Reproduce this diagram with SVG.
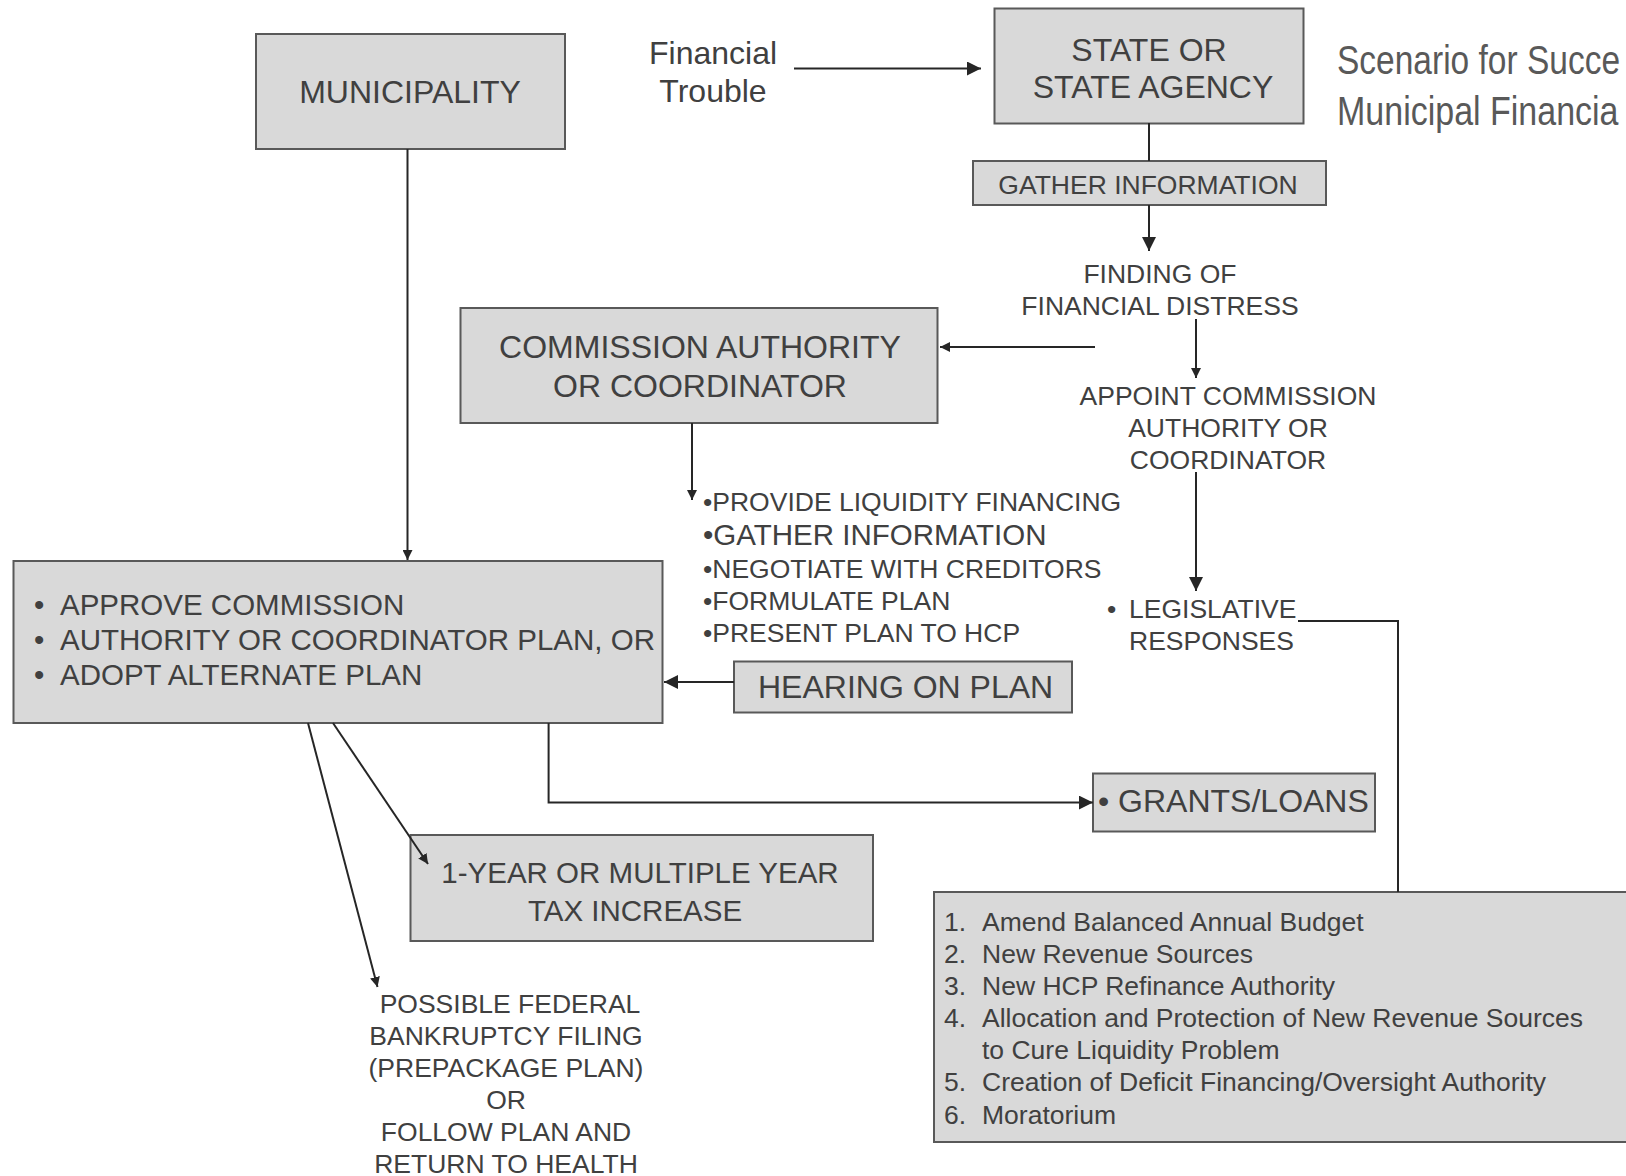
<svg xmlns="http://www.w3.org/2000/svg" width="1626" height="1176" viewBox="0 0 1626 1176">
<style>
  text { font-family: "Liberation Sans", Arial, sans-serif; fill: #404040; }
  .box { fill: #d9d9d9; stroke: #595959; stroke-width: 2; }
  .big { font-size: 32px; }
  .mid { font-size: 29.5px; }
  .sm { font-size: 26.5px; }
  .c { text-anchor: middle; }
  .ln { fill: none; stroke: #262626; stroke-width: 2; }
  .title { font-size: 33.5px; fill: #595959; }
</style>
<defs>
  <marker id="ah" markerUnits="userSpaceOnUse" markerWidth="16" markerHeight="14" refX="14" refY="7" orient="auto">
    <path d="M0,0 L14,7 L0,14 Z" fill="#262626"/>
  </marker>
  <marker id="as" markerUnits="userSpaceOnUse" markerWidth="12" markerHeight="10" refX="10" refY="5" orient="auto">
    <path d="M0,0 L10,5 L0,10 Z" fill="#262626"/>
  </marker>
</defs>

<g id="title">
  <text class="title" transform="translate(1337,74) scale(1,1.2)" x="0" y="0">Scenario for Succe</text>
  <text class="title" transform="translate(1337,125) scale(1,1.2)" x="0" y="0" style="font-size:34px">Municipal Financia</text>
</g>

<g id="municipality">
  <rect class="box" x="256" y="34" width="309" height="115"/>
  <text class="big c" x="410" y="103">MUNICIPALITY</text>
</g>

<g id="financial-trouble">
  <text class="big c" x="713" y="64">Financial</text>
  <text class="big c" x="713" y="102">Trouble</text>
</g>

<g id="state">
  <rect class="box" x="994.5" y="8.5" width="309" height="115"/>
  <text class="big c" x="1149" y="61">STATE OR</text>
  <text class="big c" x="1153" y="98">STATE AGENCY</text>
</g>

<g id="gather">
  <rect class="box" x="973" y="161" width="353" height="44"/>
  <text class="sm c" x="1148" y="194">GATHER INFORMATION</text>
</g>

<g id="finding">
  <text class="sm c" x="1160" y="282.5">FINDING OF</text>
  <text class="sm c" x="1160" y="314.5">FINANCIAL DISTRESS</text>
</g>

<g id="commission">
  <rect class="box" x="460.5" y="308" width="477" height="115"/>
  <text class="big c" x="700" y="358">COMMISSION AUTHORITY</text>
  <text class="big c" x="700" y="397">OR COORDINATOR</text>
</g>

<g id="appoint">
  <text class="sm c" x="1228" y="404.5">APPOINT COMMISSION</text>
  <text class="sm c" x="1228" y="436.5">AUTHORITY OR</text>
  <text class="sm c" x="1228" y="468.5">COORDINATOR</text>
</g>

<g id="tasks">
  <text class="sm" x="703" y="510.5">•PROVIDE LIQUIDITY FINANCING</text>
  <text class="mid" x="703" y="545">•GATHER INFORMATION</text>
  <text class="sm" x="703" y="577.5">•NEGOTIATE WITH CREDITORS</text>
  <text class="sm" x="703" y="609.5">•FORMULATE PLAN</text>
  <text class="sm" x="703" y="641.5">•PRESENT PLAN TO HCP</text>
</g>

<g id="legislative">
  <text class="sm" x="1107" y="617.5">•</text>
  <text class="sm" x="1129" y="617.5">LEGISLATIVE</text>
  <text class="sm" x="1129" y="649.5">RESPONSES</text>
</g>

<g id="approve">
  <rect class="box" x="13.5" y="561" width="649" height="162"/>
  <text class="mid" x="34" y="615">•</text>
  <text class="mid" x="60" y="615">APPROVE COMMISSION</text>
  <text class="mid" x="34" y="650">•</text>
  <text class="mid" x="60" y="650">AUTHORITY OR COORDINATOR PLAN, OR</text>
  <text class="mid" x="34" y="685">•</text>
  <text class="mid" x="60" y="685">ADOPT ALTERNATE PLAN</text>
</g>

<g id="hearing">
  <rect class="box" x="734" y="661.5" width="338" height="51"/>
  <text class="big" x="758" y="697.5">HEARING ON PLAN</text>
</g>

<g id="grants">
  <rect class="box" x="1093" y="773.5" width="282" height="58"/>
  <text class="big" x="1098" y="811.5">• GRANTS/LOANS</text>
</g>

<g id="tax">
  <rect class="box" x="410.5" y="835" width="462.5" height="106"/>
  <text class="mid c" x="640" y="883">1-YEAR OR MULTIPLE YEAR</text>
  <text class="mid c" x="635" y="920.5">TAX INCREASE</text>
</g>

<g id="outcome">
  <text class="sm c" x="510" y="1012.5">POSSIBLE FEDERAL</text>
  <text class="sm c" x="506" y="1044.5">BANKRUPTCY FILING</text>
  <text class="sm c" x="506" y="1076.5">(PREPACKAGE PLAN)</text>
  <text class="sm c" x="506" y="1108.5">OR</text>
  <text class="sm c" x="506" y="1140.5">FOLLOW PLAN AND</text>
  <text class="sm c" x="506" y="1173">RETURN TO HEALTH</text>
</g>

<g id="responses-list">
  <rect class="box" x="934" y="892" width="700" height="250"/>
  <text class="sm" x="944" y="930.5">1.</text>
  <text class="sm" x="982" y="930.5">Amend Balanced Annual Budget</text>
  <text class="sm" x="944" y="962.5">2.</text>
  <text class="sm" x="982" y="962.5">New Revenue Sources</text>
  <text class="sm" x="944" y="994.5">3.</text>
  <text class="sm" x="982" y="994.5">New HCP Refinance Authority</text>
  <text class="sm" x="944" y="1026.5">4.</text>
  <text class="sm" x="982" y="1026.5">Allocation and Protection of New Revenue Sources</text>
  <text class="sm" x="982" y="1059">to Cure Liquidity Problem</text>
  <text class="sm" x="944" y="1091">5.</text>
  <text class="sm" x="982" y="1091">Creation of Deficit Financing/Oversight Authority</text>
  <text class="sm" x="944" y="1123.5">6.</text>
  <text class="sm" x="982" y="1123.5">Moratorium</text>
</g>

<g id="connectors">
  <line class="ln" x1="794" y1="68.5" x2="981" y2="68.5" stroke-width="2.5" marker-end="url(#ah)"/>
  <line class="ln" x1="1149" y1="123" x2="1149" y2="161"/>
  <line class="ln" x1="1149" y1="205" x2="1149" y2="251" marker-end="url(#ah)"/>
  <line class="ln" x1="1196" y1="319" x2="1196" y2="378" marker-end="url(#as)"/>
  <line class="ln" x1="1095" y1="347" x2="940" y2="347" marker-end="url(#as)"/>
  <line class="ln" x1="1196" y1="472" x2="1196" y2="591" marker-end="url(#ah)"/>
  <line class="ln" x1="692" y1="423" x2="692" y2="500" marker-end="url(#as)"/>
  <line class="ln" x1="407.5" y1="149" x2="407.5" y2="560" marker-end="url(#as)"/>
  <line class="ln" x1="734" y1="682" x2="664" y2="682" marker-end="url(#ah)"/>
  <path class="ln" d="M548.6,723 V802.6 H1093" marker-end="url(#ah)"/>
  <line class="ln" x1="333" y1="723" x2="428" y2="864" marker-end="url(#as)"/>
  <line class="ln" x1="308" y1="723" x2="377.5" y2="987" marker-end="url(#as)"/>
  <path class="ln" d="M1298,621 H1398 V892" stroke-width="1.5"/>
</g>
</svg>
